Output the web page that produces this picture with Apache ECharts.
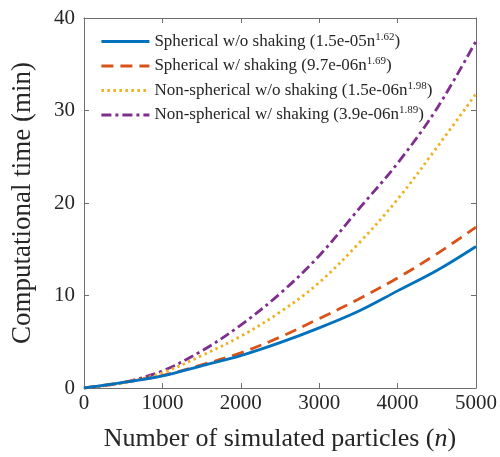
<!DOCTYPE html>
<html>
<head>
<meta charset="utf-8">
<script src="https://cdn.jsdelivr.net/npm/echarts@6/dist/echarts.min.js"></script>
<style>html,body{margin:0;padding:0;background:#fff}#c{width:500px;height:457px}</style>
</head>
<body>
<div id="c"></div>
<script>
var particles = [0, 500, 1000, 1500, 2000, 2500, 3000, 3500, 4000, 4500, 5000];
var sphericalNoShake = [0, 0.6, 1.3, 2.4, 3.5, 4.9, 6.5, 8.3, 10.5, 12.7, 15.3];
var sphericalShake = [0, 0.6, 1.35, 2.5, 3.8, 5.5, 7.5, 9.6, 11.9, 14.5, 17.4];
var nonSphericalNoShake = [0, 0.55, 1.65, 3.5, 5.6, 8.2, 11.4, 15.6, 20.4, 26.0, 31.8];
var nonSphericalShake = [0, 0.6, 1.85, 4.0, 6.8, 10.2, 14.3, 19.3, 24.3, 30.2, 37.5];
var seriesNames = ['Spherical w/o shaking', 'Spherical w/ shaking', 'Non-spherical w/o shaking', 'Non-spherical w/ shaking'];
var fitCoef = ['1.5e-05', '9.7e-06', '1.5e-06', '3.9e-06'];
var fitExp = ['1.62', '1.69', '1.98', '1.89'];
var xTicks = [0, 1000, 2000, 3000, 4000, 5000];
var yTicks = [0, 10, 20, 30, 40];

var colors = ['#0072BD', '#D95319', '#EDB120', '#7E2F8E'];
var dashes = ['solid', [12, 7], [2.5, 3.5], [10, 4, 3, 4]];
var allValues = [sphericalNoShake, sphericalShake, nonSphericalNoShake, nonSphericalShake];
var font = '"Liberation Serif", "Times New Roman", serif';
var txt = '#262626';
var axCol = '#6e6e6e';

var series = allValues.map(function (vals, i) {
  return {
    name: seriesNames[i],
    type: 'line',
    smooth: 0.35,
    showSymbol: false,
    symbol: 'none',
    z: 10 - i,
    data: particles.map(function (n, k) { return [n, vals[k]]; }),
    lineStyle: { color: colors[i], width: 2.8, type: dashes[i], cap: 'butt' },
    itemStyle: { color: colors[i] }
  };
});

function axisBase(pos, show) {
  return {
    type: 'value',
    position: pos,
    axisLine: { show: true, onZero: false, lineStyle: { color: axCol, width: 1 } },
    axisTick: { show: true, inside: true, length: 5, lineStyle: { color: axCol } },
    splitLine: { show: false },
    axisLabel: { show: show, color: txt, fontFamily: font, fontSize: 21 }
  };
}

var xb = axisBase('bottom', true);
xb.min = 0; xb.max = 5000; xb.interval = 1000;
xb.axisLabel.margin = 5;
xb.axisLabel.formatter = function (v) { return xTicks.indexOf(v) >= 0 ? String(v) : ''; };
xb.name = 'Number of simulated particles ({i|n})';
xb.nameLocation = 'middle';
xb.nameGap = 38;
xb.nameTextStyle = { color: txt, fontFamily: font, fontSize: 26, rich: { i: { fontStyle: 'italic', fontFamily: font, fontSize: 26, color: txt } } };
var xt = axisBase('top', false);
xt.min = 0; xt.max = 5000; xt.interval = 1000;

var yl = axisBase('left', true);
yl.min = 0; yl.max = 40; yl.interval = 10;
yl.axisLabel.margin = 9;
yl.axisLabel.formatter = function (v) { return yTicks.indexOf(v) >= 0 ? String(v) : ''; };
yl.name = 'Computational time (min)';
yl.nameLocation = 'middle';
yl.nameGap = 48;
yl.nameTextStyle = { color: txt, fontFamily: font, fontSize: 27 };
var yr = axisBase('right', false);
yr.min = 0; yr.max = 40; yr.interval = 10;

var chart = echarts.init(document.getElementById('c'), null, { renderer: 'canvas' });
chart.setOption({
  animation: false,
  backgroundColor: '#ffffff',
  color: colors,
  grid: { left: 84, right: 22, top: 18, bottom: 68, containLabel: false },
  xAxis: [xb, xt],
  yAxis: [yl, yr],
  legend: {
    orient: 'vertical',
    left: 100,
    top: 31.5,
    itemWidth: 48,
    itemHeight: 14,
    itemGap: 4.5,
    padding: 0,
    data: seriesNames,
    itemStyle: { opacity: 0 },
    lineStyle: { width: 2.8 },
    formatter: function (name) {
      var i = seriesNames.indexOf(name);
      return name + ' (' + fitCoef[i] + 'n{sup|' + fitExp[i] + '})';
    },
    textStyle: {
      color: txt, fontFamily: font, fontSize: 17, lineHeight: 20,
      rich: {
        sup: { fontSize: 11, fontFamily: font, color: txt, verticalAlign: 'top', lineHeight: 11 }
      }
    }
  },
  series: series
});
</script>
</body>
</html>
